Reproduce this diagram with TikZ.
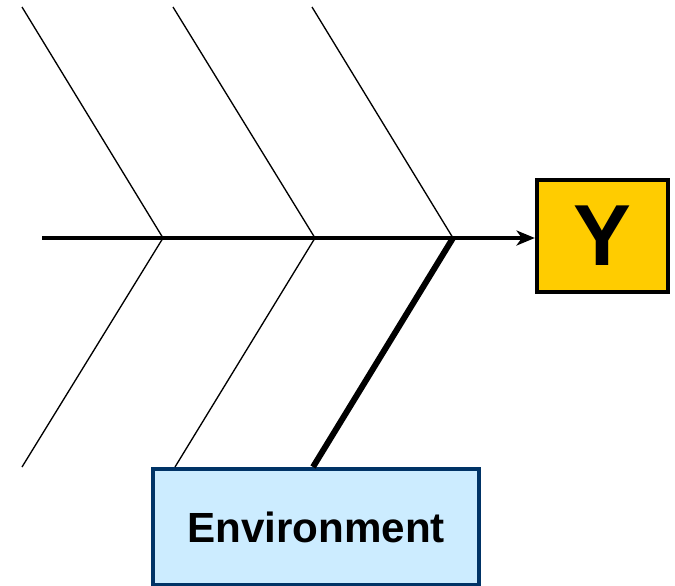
\documentclass[tikz,border=0pt]{standalone}
\usepackage{fontspec}
\setmainfont{Liberation Sans}
\usetikzlibrary{arrows.meta,positioning}

\definecolor{effectfill}{HTML}{FFCC00}
\definecolor{causefill}{HTML}{CCECFF}
\definecolor{causeline}{HTML}{003366}

\begin{document}
\begin{tikzpicture}[x=0.3mm,y=-0.3mm,
    rib/.style={line width=0.4mm},
    spine/.style={line width=1.4mm},
    bone/.style={line width=1.8mm}]
    \useasboundingbox (0,0) rectangle (675,585);

    % head of the fish
    \node[draw,line width=1.3mm,fill=effectfill,minimum width=39.3mm,minimum height=33.6mm,
        font=\bfseries\fontsize{74}{74}\selectfont] (effect) at (602.5,236) {Y};
    % the one labelled cause
    \node[draw=causeline,line width=1.3mm,fill=causefill,minimum width=97.8mm,minimum height=34.8mm,
        font=\bfseries\fontsize{36}{36}\selectfont] (env) at (316,527) {Environment};

    \coordinate (tail) at (42,238);
    \coordinate (j1) at (163,238);
    \coordinate (j2) at (315,238);
    \coordinate (j3) at (453,238);
    \coordinate (t1) at (22,7);
    \coordinate (t2) at (173,7);
    \coordinate (t3) at (312,7);
    \coordinate (b1) at (22,467);
    \coordinate (b2) at (175,467);
    \coordinate (b3) at (313,467);

    \draw[spine,-{Stealth[length=5.5mm,width=4.5mm,inset=1.6mm]}] (tail) -- (tail -| effect.west);
    \draw[rib] (t1) -- (j1);
    \draw[rib] (t2) -- (j2);
    \draw[rib] (t3) -- (j3);
    \draw[rib] (j1) -- (b1);
    \draw[rib] (j2) -- (b2);
    \draw[bone] (j3) -- (b3);
\end{tikzpicture}
\end{document}
